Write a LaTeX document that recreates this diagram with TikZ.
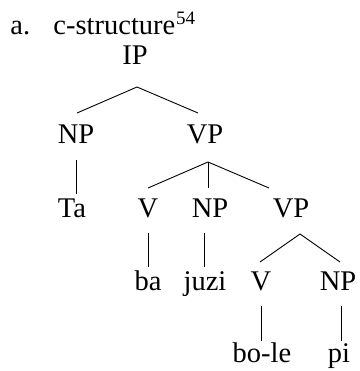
\documentclass[tikz,border=0pt]{standalone}
\usepackage{fontspec}
\setmainfont{Liberation Serif}

\begin{document}
\begin{tikzpicture}[x = 1pt, y = -1pt, line width = 0.9pt,
	cat/.style = {anchor = base, inner sep = 0pt, font = \fontsize{28.5}{34}\selectfont}]

	% Frame
	
	\useasboundingbox (0, 0) rectangle (359, 371);
	
	% Heading
	
	\node [cat, anchor = base west] (lbl) at (10, 35) {a.};
	\node [cat, anchor = base west] (title) at (53, 35) {c-structure};
	\node [cat, anchor = base west, font = \fontsize{19}{22}\selectfont] (fn) at (title.base east) [yshift = 10pt] {54};
	
	% Categories
	
	\node [cat] (ip) at (135, 65) {IP};
	
	\node [cat] (np1) at (76, 144) {NP};
	\node [cat] (vp1) at (205, 144) {VP};
	
	\node [cat] (ta) at (72, 217) {Ta};
	\node [cat] (v1) at (148, 217) {V};
	\node [cat] (np2) at (210, 217) {NP};
	\node [cat] (vp2) at (291, 217) {VP};
	
	\node [cat] (ba) at (148, 290) {ba};
	\node [cat] (juzi) at (205, 290) {juzi};
	\node [cat] (v2) at (261, 290) {V};
	\node [cat] (np3) at (338, 290) {NP};
	
	\node [cat] (bole) at (262, 362) {bo-le};
	\node [cat] (pi) at (339, 362) {pi};
	
	% Branches
	
	\draw ([shift = {(2, 22)}] ip.base) -- ([shift = {(1, -31)}] np1.base);
	\draw ([shift = {(2, 22)}] ip.base) -- ([shift = {(-7, -31)}] vp1.base);
	
	\draw ([shift = {(0, 16)}] np1.base) -- ([shift = {(4, -23)}] ta.base);
	
	\draw ([shift = {(3, 18)}] vp1.base) -- ([shift = {(0, -29)}] v1.base);
	\draw ([shift = {(3, 18)}] vp1.base) -- ([shift = {(-2, -29)}] np2.base);
	\draw ([shift = {(3, 18)}] vp1.base) -- ([shift = {(-22, -29)}] vp2.base);
	
	\draw ([shift = {(0, 16)}] v1.base) -- ([shift = {(0, -23)}] ba.base);
	\draw ([shift = {(-6, 16)}] np2.base) -- ([shift = {(-1, -23)}] juzi.base);
	
	\draw ([shift = {(9, 17)}] vp2.base) -- ([shift = {(-1, -28)}] v2.base);
	\draw ([shift = {(9, 17)}] vp2.base) -- ([shift = {(2, -28)}] np3.base);
	
	\draw ([shift = {(0, 16)}] v2.base) -- ([shift = {(-1, -21)}] bole.base);
	\draw ([shift = {(3, 16)}] np3.base) -- ([shift = {(2, -21)}] pi.base);

\end{tikzpicture}
\end{document}
